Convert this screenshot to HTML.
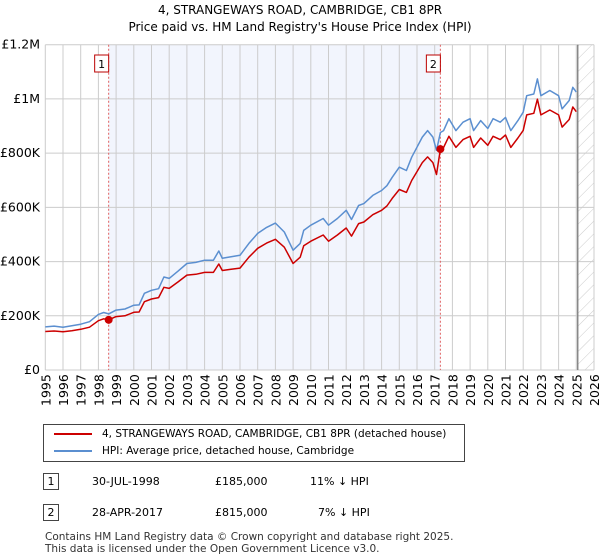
<!DOCTYPE html>
<html><head><meta charset="utf-8"><style>
body{margin:0;background:#fff;font-family:"DejaVu Sans","Liberation Sans",sans-serif;}
#wrap{position:relative;width:600px;height:560px;overflow:hidden;}
.t{position:absolute;font-size:11px;color:#000;white-space:nowrap;}
</style></head><body><div id="wrap">
<div class="t" style="left:0;width:600px;text-align:center;top:2px;font-size:12px;line-height:17px">4, STRANGEWAYS ROAD, CAMBRIDGE, CB1 8PR<br>Price paid vs. HM Land Registry's House Price Index (HPI)</div>
<svg id="chart" width="600" height="420" style="position:absolute;left:0;top:0"></svg>
<div style="position:absolute;left:43px;top:424px;width:422px;height:38px;border:1px solid #444;box-sizing:border-box">
<div style="position:absolute;left:10px;top:3px;font-size:10.5px;white-space:nowrap"><span style="display:inline-block;width:38px;height:2px;background:#cc0000;vertical-align:middle;margin-right:10px"></span>4, STRANGEWAYS ROAD, CAMBRIDGE, CB1 8PR (detached house)</div>
<div style="position:absolute;left:10px;top:20px;font-size:10.5px;white-space:nowrap"><span style="display:inline-block;width:38px;height:2px;background:#5b8fd0;vertical-align:middle;margin-right:10px"></span>HPI: Average price, detached house, Cambridge</div>
</div>
<div style="position:absolute;left:43px;top:473px;width:16px;height:17px;border:1px solid #444;box-sizing:border-box;font-size:11px;text-align:center;line-height:15px">1</div>
<div class="t" style="left:92px;top:475px">30-JUL-1998</div>
<div class="t" style="left:215px;top:475px">£185,000</div>
<div class="t" style="left:310px;top:475px">11% ↓ HPI</div>
<div style="position:absolute;left:43px;top:504px;width:16px;height:17px;border:1px solid #444;box-sizing:border-box;font-size:11px;text-align:center;line-height:15px">2</div>
<div class="t" style="left:92px;top:506px">28-APR-2017</div>
<div class="t" style="left:215px;top:506px">£815,000</div>
<div class="t" style="left:318px;top:506px">7% ↓ HPI</div>
<div class="t" style="left:45px;top:531px;font-size:10.5px;line-height:12px;color:#333">Contains HM Land Registry data © Crown copyright and database right 2025.<br>This data is licensed under the Open Government Licence v3.0.</div>
</div>
<script>
const years=[1995,1995.5,1996,1996.5,1997,1997.5,1998,1998.3,1998.58,1999,1999.5,2000,2000.3,2000.6,2001,2001.4,2001.7,2002,2002.5,2003,2003.5,2004,2004.5,2004.8,2005,2005.5,2006,2006.5,2007,2007.5,2008,2008.5,2009,2009.4,2009.6,2010,2010.7,2011,2011.5,2012,2012.3,2012.7,2013,2013.5,2014,2014.3,2014.6,2015,2015.4,2015.7,2016,2016.3,2016.6,2016.9,2017.1,2017.32,2017.5,2017.8,2018.2,2018.6,2019,2019.2,2019.6,2020,2020.3,2020.7,2021,2021.3,2021.7,2022,2022.2,2022.6,2022.8,2023,2023.5,2024,2024.2,2024.6,2024.8,2025];
const hpiK=[159,162,158,163,169,178,205,212,207,221,225,239,240,283,294,300,343,338,365,393,397,405,405,439,412,418,423,467,504,526,542,509,442,467,515,534,559,534,559,589,555,607,614,644,662,680,711,748,736,785,822,859,883,859,810,876,883,927,883,914,927,883,920,891,927,914,932,883,920,951,1012,1018,1074,1012,1031,1012,963,994,1043,1025];
const priceK=[142,144,141,145,150,158,182,189,185,197,200,213,214,252,262,267,305,301,325,350,353,360,360,391,367,372,376,416,449,468,482,453,393,416,458,475,498,475,498,524,494,540,546,573,589,605,633,666,655,699,732,765,786,765,721,815,821,862,821,850,862,821,856,829,862,850,867,821,856,884,941,947,999,941,959,941,896,924,970,953];
const saleYears=[1998.58,2017.32];
const saleK=[185,815];
const saleLabels=["1","2"];
const yTicksK=[0,200,400,600,800,1000,1200];
const yTickLabels=["£0","£200K","£400K","£600K","£800K","£1M","£1.2M"];
const xTicks=[1995,1996,1997,1998,1999,2000,2001,2002,2003,2004,2005,2006,2007,2008,2009,2010,2011,2012,2013,2014,2015,2016,2017,2018,2019,2020,2021,2022,2023,2024,2025,2026];
const X0=45.3,X1=594,Y0=370,Y1=44.7;
const FF='DejaVu Sans, Liberation Sans, sans-serif';
const xs=y=>X0+(y-1995)/(2026-1995)*(X1-X0);
const ys=v=>Y0-v/1200*(Y0-Y1);
const svg=document.getElementById('chart');const NS='http://www.w3.org/2000/svg';
function mk(tag,at,parent){const e=document.createElementNS(NS,tag);for(const k in at)e.setAttribute(k,at[k]);(parent||svg).appendChild(e);return e;}
const defs=mk('defs',{});
const pat=mk('pattern',{id:'hatch',width:9,height:9,patternUnits:'userSpaceOnUse',patternTransform:'rotate(45)'},defs);
mk('line',{x1:0,y1:0,x2:0,y2:9,stroke:'#ccc','stroke-width':1},pat);
let r=mk('rect',{x:xs(saleYears[0]),y:Y1,width:xs(saleYears[1])-xs(saleYears[0]),height:Y0-Y1,fill:'#f2f5fd'});


r=mk('rect',{x:xs(2025.08),y:Y1,width:X1-xs(2025.08),height:Y0-Y1,fill:'url(#hatch)'});


yTicksK.forEach((v,i)=>{const l=mk('line',{x1:X0,x2:X1,y1:ys(v),y2:ys(v),stroke:'#ccc','stroke-width':1});


const t=mk('text',{x:40,y:ys(v)+4,'text-anchor':'end','font-size':12.5,fill:'#000','font-family':FF});t.textContent=yTickLabels[i];

});
xTicks.forEach(y=>{const l=mk('line',{x1:xs(y),x2:xs(y),y1:Y1,y2:Y0,stroke:'#ccc','stroke-width':1});


const t=mk('text',{x:0,y:0,transform:`translate(${xs(y)+5},${Y0+36}) rotate(-90)`,'font-size':12.5,fill:'#000','font-family':FF});t.textContent=y;

});
let l=mk('line',{x1:xs(2025.08),x2:xs(2025.08),y1:Y1,y2:Y0,stroke:'#888','stroke-width':1.5});


saleYears.forEach((y,i)=>{const d=mk('line',{x1:xs(y),x2:xs(y),y1:Y1,y2:Y0,stroke:'#e06060','stroke-width':1,'stroke-dasharray':'2,2'});


const b=mk('rect',{x:xs(y)-14,y:55,width:14,height:17,fill:'#fff',stroke:'#b00','stroke-width':1});


const t=mk('text',{x:xs(y)-7,y:68,'text-anchor':'middle','font-size':11,fill:'#000','font-family':FF});t.textContent=saleLabels[i];

});
function path(vals,color,name){const p=mk('path',{d:vals.map((v,i)=>(i?'L':'M')+xs(years[i]).toFixed(1)+','+ys(v).toFixed(1)).join(''),fill:'none',stroke:color,'stroke-width':1.5,'stroke-linejoin':'round'});

}
path(hpiK,'#5b8fd0','hpi-line');
path(priceK,'#cc0000','price-paid-line');
saleYears.forEach((y,i)=>{const c=mk('circle',{cx:xs(y),cy:ys(saleK[i]),r:4,fill:'#cc0000'});

});
</script></body></html>
